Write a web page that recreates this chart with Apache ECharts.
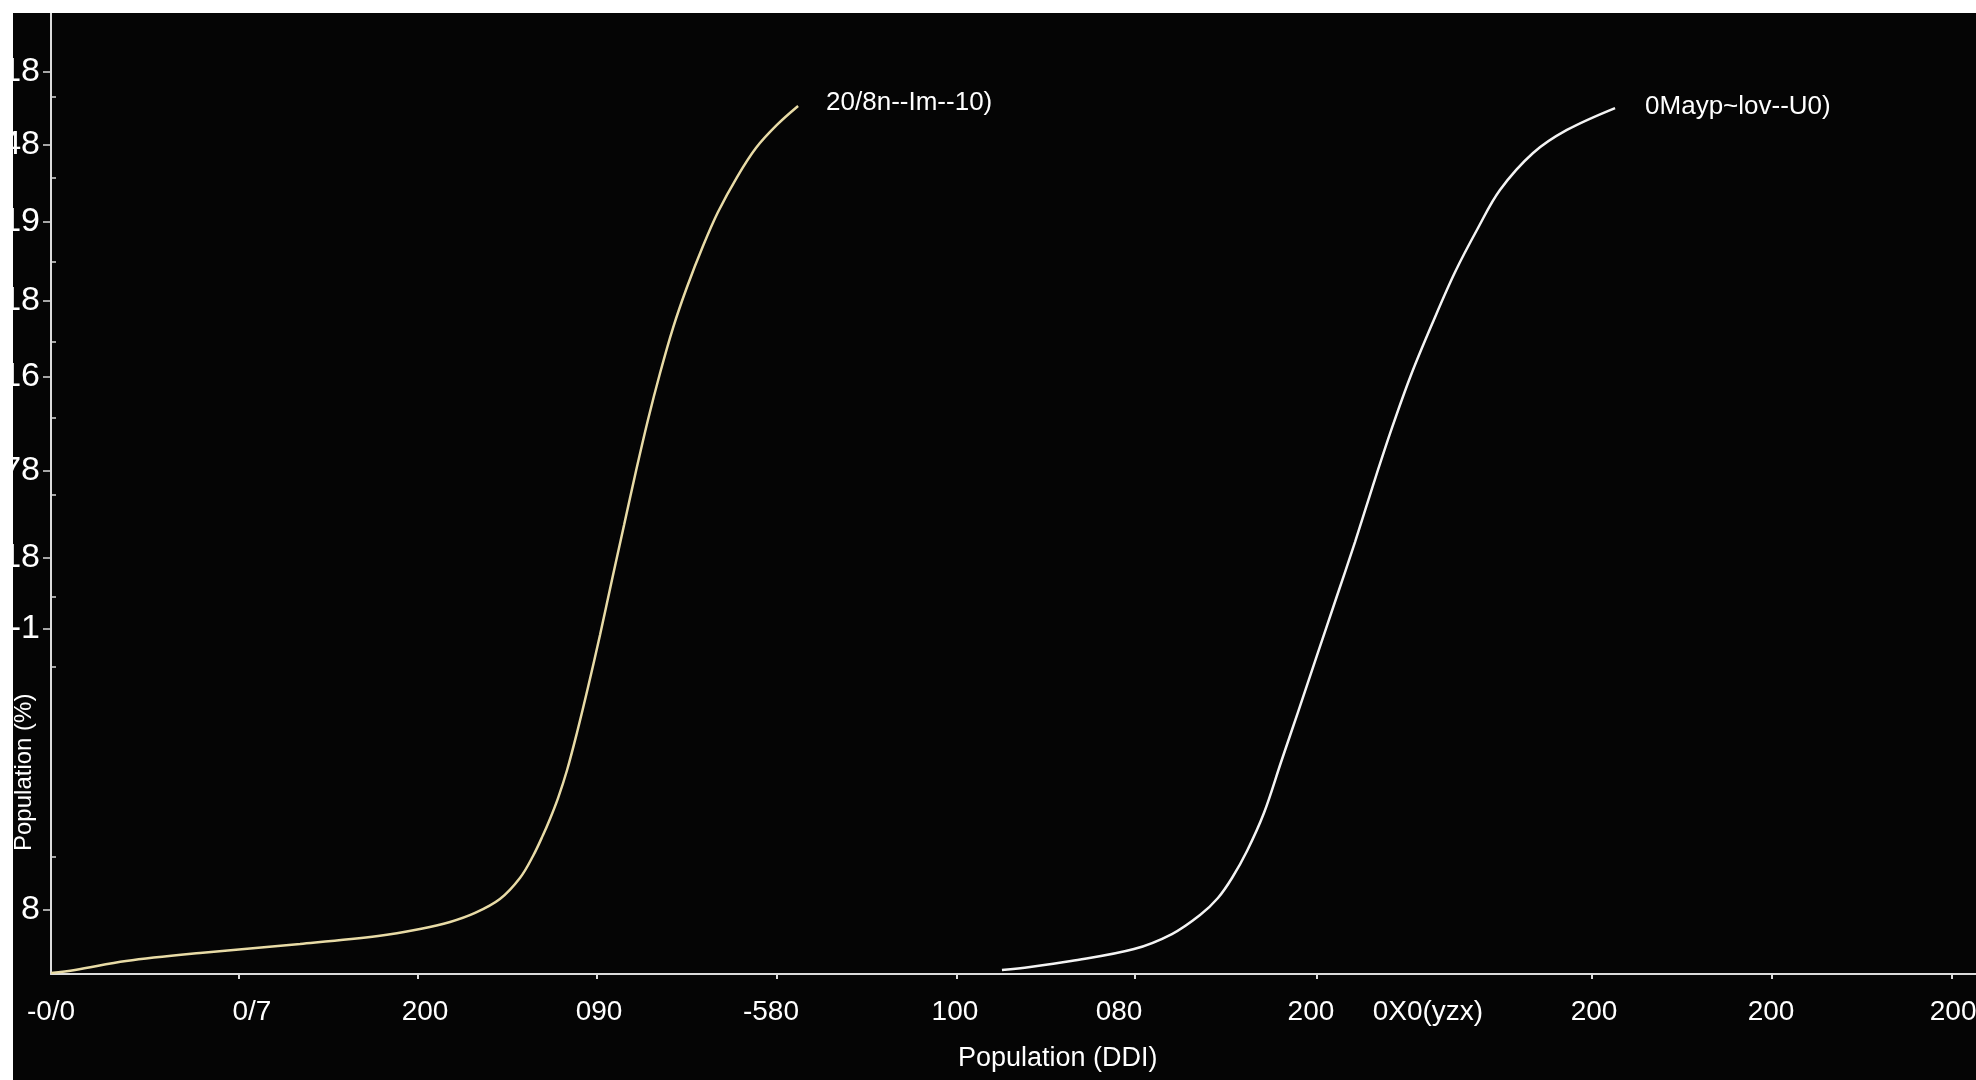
<!DOCTYPE html>
<html><head><meta charset="utf-8">
<script src="https://cdn.jsdelivr.net/npm/echarts@6/dist/echarts.min.js"></script>
<style>
html,body{margin:0;padding:0;background:#ffffff;width:1976px;height:1080px;overflow:hidden}
#c{position:absolute;left:13px;top:13px;width:1963px;height:1067px;background:#050505}
</style>
</head><body><div id="c"></div><script>
// Series 1 (cream curve)
const curveAX = [0, 1.25, 3.90, 7.74, 12.94, 16.99, 19.17, 20.73, 22.03, 23.32, 24.36, 25.04, 25.56, 25.92, 26.34, 26.81, 27.32, 27.90, 28.52, 29.14, 29.77, 30.39, 31.01, 31.64, 32.31, 33.04, 33.87, 34.65, 35.64, 36.62, 37.71, 38.81];
const curveAY = [0.10, 0.42, 1.35, 2.19, 3.12, 3.95, 4.68, 5.41, 6.35, 7.80, 9.99, 12.28, 14.46, 16.13, 18.31, 21.23, 25.08, 29.86, 35.28, 41.00, 46.72, 52.34, 57.65, 62.54, 67.22, 71.49, 75.75, 79.29, 82.93, 85.95, 88.35, 90.32];
// Series 2 (white curve)
const curveBX = [49.40, 50.86, 52.99, 56.26, 58.23, 59.69, 60.62, 61.35, 62.13, 63.01, 63.90, 64.78, 65.77, 66.75, 67.74, 68.68, 69.66, 70.65, 71.79, 72.94, 74.13, 75.27, 76.99, 78.75, 81.25];
const curveBY = [0.42, 0.73, 1.35, 2.60, 4.16, 6.14, 7.91, 9.99, 12.80, 16.75, 22.06, 27.26, 33.19, 39.02, 44.95, 50.88, 56.82, 62.33, 67.85, 73.05, 77.63, 81.58, 85.43, 87.83, 90.11];
const seriesNames = ['20/8n--Im--10)', '0Mayp~lov--U0)'];

// X axis tick labels and their positions
const xLabelVals = [0, 10.44, 19.43, 28.47, 37.40, 46.96, 55.48, 65.45, 71.53, 80.16, 89.35, 98.81];
const xLabels = ['-0/0', '0/7', '200', '090', '-580', '100', '080', '200', '0X0(yzx)', '200', '200', '200'];
const xTickVals = [9.77, 19.07, 28.36, 37.71, 47.06, 56.31, 65.77, 80.05, 89.40, 98.75];

// Y axis tick labels and their positions
const yLabelVals = [93.9, 86.3, 78.3, 70.1, 62.2, 52.4, 43.3, 35.9, 6.7];
const yLabels = ['18', '48', '19', '18', '16', '78', '18', '-1', '8'];
const yMinorVals = [91.26, 82.83, 74.09, 65.76, 57.86, 49.84, 39.23, 31.95, 12.17];

const xName = 'Population (DDI)';
const yName = 'Population (%)';

const zip = (xs, ys) => xs.map((x, i) => [x, ys[i]]);
const FONT = 'Liberation Sans';
const AX = '#dcdcdc';

const chart = echarts.init(document.getElementById('c'), null, {renderer: 'canvas'});
chart.setOption({
  backgroundColor: '#050505',
  animation: false,
  grid: {left: 38, right: 0, top: 0, bottom: 106, containLabel: false, outerBoundsMode: 'none'},
  xAxis: {
    type: 'value', min: 0, max: 100,
    axisLine: {show: true, lineStyle: {color: AX, width: 2}},
    axisTick: {show: true, customValues: xTickVals, length: 5, lineStyle: {color: AX, width: 2}},
    axisLabel: {
      show: true, customValues: xLabelVals, margin: 24,
      color: '#ffffff', fontSize: 28, fontFamily: FONT,
      formatter: v => xLabels[xLabelVals.indexOf(v)] ?? ''
    },
    splitLine: {show: false}
  },
  yAxis: [{
    type: 'value', min: 0, max: 100,
    axisLine: {show: true, lineStyle: {color: AX, width: 2}},
    axisTick: {show: true, customValues: yLabelVals, length: 8, lineStyle: {color: AX, width: 1.5}},
    axisLabel: {
      show: true, customValues: yLabelVals, margin: 11,
      color: '#ffffff', fontSize: 34, fontFamily: FONT,
      formatter: v => yLabels[yLabelVals.indexOf(v)] ?? ''
    },
    splitLine: {show: false}
  }, {
    type: 'value', min: 0, max: 100, position: 'left',
    axisLine: {show: false},
    axisTick: {show: true, inside: true, customValues: yMinorVals, length: 5, lineStyle: {color: AX, width: 1.5}},
    axisLabel: {show: false},
    splitLine: {show: false}
  }],
  graphic: [
    {type: 'text', left: 945, top: 1032, style: {text: xName, fill: '#ffffff', font: '27px "' + FONT + '"'}},
    {type: 'text', x: -1, y: 838, rotation: Math.PI / 2, style: {text: yName, fill: '#ffffff', font: '24px "' + FONT + '"'}}
  ],
  series: [{
    type: 'line', name: seriesNames[0], data: zip(curveAX, curveAY),
    smooth: 0.35, showSymbol: false, xAxisIndex: 0, yAxisIndex: 0,
    lineStyle: {color: '#e8dba6', width: 2.5},
    endLabel: {show: true, formatter: seriesNames[0], color: '#ffffff', fontSize: 26, fontFamily: FONT, distance: 28, offset: [0, -3]}
  }, {
    type: 'line', name: seriesNames[1], data: zip(curveBX, curveBY),
    smooth: 0.35, showSymbol: false, xAxisIndex: 0, yAxisIndex: 0,
    lineStyle: {color: '#f4f4f4', width: 2.5},
    endLabel: {show: true, formatter: seriesNames[1], color: '#ffffff', fontSize: 26, fontFamily: FONT, distance: 30, offset: [0, -1]}
  }]
});
</script></body></html>
